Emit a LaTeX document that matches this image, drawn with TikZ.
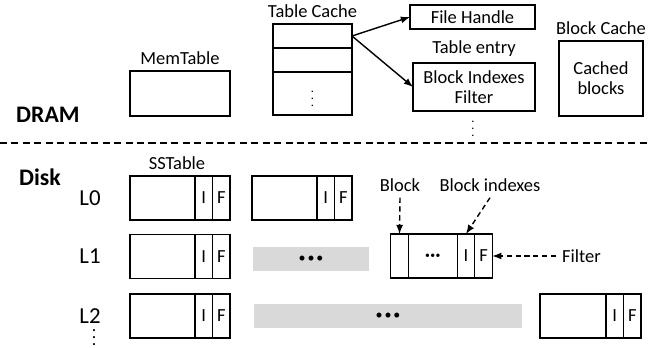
\documentclass[tikz,border=0pt]{standalone}
\usepackage{fontspec}
\setmainfont{Carlito}
\usepackage{tikz}
\usetikzlibrary{arrows}
\usetikzlibrary{positioning}
\definecolor{barGray}{HTML}{D9D9D9}

\begin{document}
\begin{tikzpicture}[
    box/.style={draw, thick, inner sep=0pt, outer sep=0pt},
    cell/.style={box, minimum width=0.35cm, minimum height=0.88cm, font=\fontsize{10.5}{12}\selectfont},
    data/.style={box, minimum width=1.3cm, minimum height=0.88cm},
    bar/.style={fill=barGray, inner sep=0pt, minimum height=0.48cm, font=\fontsize{8}{10}\selectfont},
    tag/.style={font=\fontsize{10.5}{11.5}\selectfont},
    level/.style={font=\fontsize{13}{15}\selectfont},
    region/.style={font=\bfseries\fontsize{13.5}{16}\selectfont},
    link/.style={-latex, thick},
    hint/.style={-latex, thick, dash pattern=on 3pt off 2pt},
    sep/.style={thick, dash pattern=on 4pt off 2.5pt}]
    	\useasboundingbox (0, 0) rectangle (12.96, 6.96);
    	% DRAM part:
    	\node[region, anchor=west] (dram) at (0.2, 4.66) {DRAM};
    	\node[box, minimum width=2cm, minimum height=0.9cm] (mem) at (3.6, 5.09) {};
    	\node[tag, anchor=south] (memlbl) at (mem.north) {MemTable};
    	\node[box, minimum width=1.58cm, minimum height=0.48cm] (tc1) at (6.25, 6.24) {};
    	\node[box, minimum width=1.58cm, minimum height=0.48cm, below=0pt of tc1] (tc2) {};
    	\node[box, minimum width=1.58cm, minimum height=0.86cm, below=0pt of tc2] (tc3) {\scriptsize$\vdots$};
    	\node[tag, anchor=south] (tclbl) at (tc1.north) {Table Cache};
    	\node[box, tag, minimum width=2.5cm, minimum height=0.48cm] (fh) at (9.45, 6.62) {File Handle};
    	\node[box, tag, minimum width=2.44cm, minimum height=0.96cm, align=center] (te) at (9.48, 5.22) {Block Indexes\\Filter};
    	\node[tag, anchor=south] (telbl) at (te.north) {Table entry};
    	\node (tedots) at (9.46, 4.48) {\scriptsize$\vdots$};
    	\node[box, tag, minimum width=1.68cm, minimum height=1.5cm, align=center] (bc) at (12.02, 5.39) {Cached\\blocks};
    	\node[tag, anchor=south] (bclbl) at (bc.north) {Block Cache};
    	\draw[link] (tc1.east) -- (fh.west);
    	\draw[link] (tc1.east) -- (te.west);
    	% Border between DRAM and disk:
    	\coordinate (sepL) at (0, 4.1);
    	\coordinate (sepR) at (12.96, 4.1);
    	\draw[sep] (sepL) -- (sepR);
    	% Disk part:
    	\node[region, anchor=west] (disk) at (0.26, 3.42) {Disk};
    	\node[level] (l0) at (1.8, 3.0) {L0};
    	\node[level] (l1) at (1.8, 1.83) {L1};
    	\node[level] (l2) at (1.8, 0.64) {L2};
    	\node[inner sep=0pt, anchor=base] (ldots) at (1.88, 0.05) {$\vdots$};
    	\node[tag] (sslbl) at (3.54, 3.7) {SSTable};
    	\node[data] (s00) at (3.25, 3.0) {};
    	\node[cell, right=0pt of s00] (s00i) {I};
    	\node[cell, right=0pt of s00i] (s00f) {F};
    	\node[data] (s01) at (5.69, 3.0) {};
    	\node[cell, right=0pt of s01] (s01i) {I};
    	\node[cell, right=0pt of s01i] (s01f) {F};
    	\node[data] (s10) at (3.25, 1.83) {};
    	\node[cell, right=0pt of s10] (s10i) {I};
    	\node[cell, right=0pt of s10i] (s10f) {F};
    	\node[bar, minimum width=2.32cm] (bar1) at (6.22, 1.78) {•\kern1pt•\kern1pt•};
    	\node[cell] (blk) at (7.99, 1.84) {};
    	\node[box, minimum width=0.98cm, minimum height=0.88cm, right=0pt of blk] (blkmid) {\fontsize{5.5}{7}\selectfont •\kern0.3pt•\kern0.3pt•};
    	\node[cell, right=0pt of blkmid] (idx) {I};
    	\node[cell, right=0pt of idx] (flt) {F};
    	\node[data] (s20) at (3.25, 0.64) {};
    	\node[cell, right=0pt of s20] (s20i) {I};
    	\node[cell, right=0pt of s20i] (s20f) {F};
    	\node[bar, minimum width=5.36cm] (bar2) at (7.76, 0.64) {•\kern1pt•\kern1pt•};
    	\node[data, minimum width=1.32cm] (s21) at (11.46, 0.64) {};
    	\node[cell, right=0pt of s21] (s21i) {I};
    	\node[cell, right=0pt of s21i] (s21f) {F};
    	% Pointers into the block layout:
    	\node[tag] (blklbl) at (8.0, 3.26) {Block};
    	\node[tag] (idxlbl) at (9.8, 3.26) {Block indexes};
    	\node[tag, anchor=west] (fltlbl) at (11.12, 1.84) {Filter};
    	\draw[hint] (blklbl.south) -- (blk.north);
    	\draw[hint] (idxlbl.south) -- (idx.north);
    	\draw[hint] (fltlbl.west) -- (flt.east);
    \end{tikzpicture}
\end{document}
